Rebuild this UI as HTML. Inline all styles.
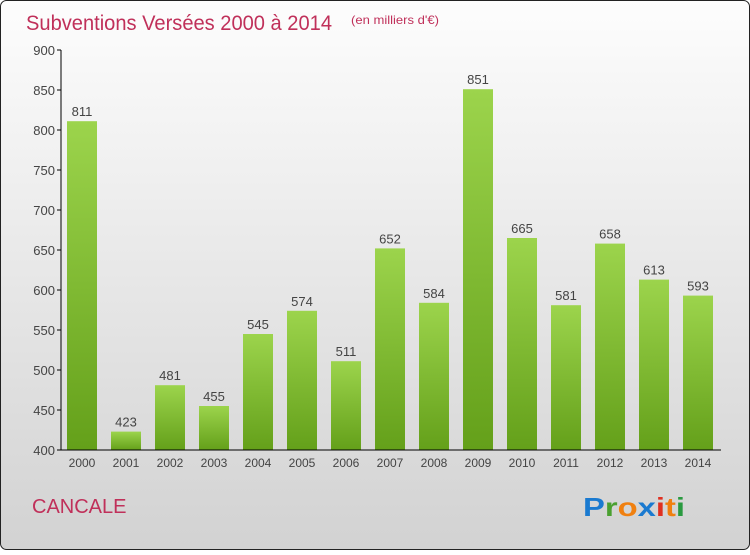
<!DOCTYPE html>
<html><head><meta charset="utf-8"><style>
body{margin:0;width:750px;height:550px;overflow:hidden;font-family:"Liberation Sans",sans-serif}
</style></head><body>
<svg width="750" height="550">
<defs>
<linearGradient id="bg" x1="0" y1="0" x2="0" y2="1"><stop offset="0" stop-color="#fdfdfd"/><stop offset="1" stop-color="#d2d2d2"/></linearGradient>
<linearGradient id="bar" x1="0" y1="0" x2="0" y2="1"><stop offset="0" stop-color="#9cd44c"/><stop offset="1" stop-color="#64a01a"/></linearGradient>
</defs>
<rect x="0.5" y="0.5" width="749" height="549" rx="6" fill="url(#bg)" stroke="#222"/>
<text x="26" y="30" font-size="21" fill="#c0305a" textLength="306" lengthAdjust="spacingAndGlyphs">Subventions Versées 2000 à 2014</text>
<text x="351" y="24" font-size="12" fill="#c0305a" textLength="88" lengthAdjust="spacingAndGlyphs">(en milliers d'€)</text>
<g id="plot"></g>
<text x="32" y="513" font-size="20" fill="#c0305a">CANCALE</text>
<text x="583" y="516" font-size="26" font-weight="bold" textLength="102" lengthAdjust="spacingAndGlyphs"><tspan fill="#1a7ad0">P</tspan><tspan fill="#4aa030">r</tspan><tspan fill="#f08010">o</tspan><tspan fill="#1a7ad0">x</tspan><tspan fill="#e03020">i</tspan><tspan fill="#f08010">t</tspan><tspan fill="#2a9a40">i</tspan></text>
</svg>
<script>
const categories=["2000","2001","2002","2003","2004","2005","2006","2007","2008","2009","2010","2011","2012","2013","2014"];
const values=[811,423,481,455,545,574,511,652,584,851,665,581,658,613,593];
const ticks=[400,450,500,550,600,650,700,750,800,850,900];
const NS="http://www.w3.org/2000/svg";
const g=document.getElementById('plot');
const y=v=>450-(v-400)*0.8;
const x=i=>82+i*44;
function mk(t,a,txt){const e=document.createElementNS(NS,t);for(const k in a)e.setAttribute(k,a[k]);if(txt!=null)e.textContent=txt;g.appendChild(e);return e;}
ticks.forEach(t=>{
const l=mk('line',{x1:57,x2:61,y1:y(t),y2:y(t),stroke:'#000'});


const tx=mk('text',{x:55,y:y(t)+5,'text-anchor':'end','font-size':13,fill:'#444'},t);


});
values.forEach((v,i)=>{
const r=mk('rect',{x:x(i)-15,y:y(v),width:30,height:450-y(v),fill:'url(#bar)'});


const vl=mk('text',{x:x(i),y:y(v)-5,'text-anchor':'middle','font-size':13,fill:'#444'},v);


const cl=mk('text',{x:x(i),y:467,'text-anchor':'middle','font-size':12,fill:'#444'},categories[i]);


});
const ya=mk('line',{x1:61,x2:61,y1:50,y2:450,stroke:'#000'});


const xa=mk('line',{x1:61,x2:721,y1:450,y2:450,stroke:'#000'});


</script>
</body></html>
